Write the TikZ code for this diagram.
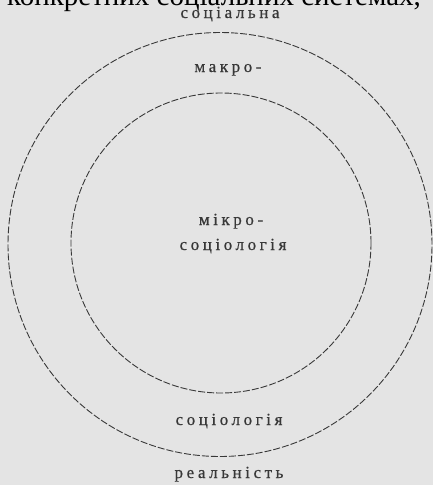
\documentclass[tikz,border=0pt]{standalone}
\usepackage{fontspec}
\setmainfont{Liberation Serif}
\newfontfamily\lblfont[LetterSpace=21,FakeBold=0.6]{Liberation Serif}
\definecolor{bg}{HTML}{E4E4E4}
\definecolor{ink}{HTML}{383838}
\tikzset{
  ring/.style={circle, draw=ink, line width=0.9pt, dash pattern=on 7pt off 2pt, inner sep=0pt},
  lbl/.style={font=\lblfont\fontsize{17}{18}\selectfont, text=ink, inner sep=0pt, anchor=base},
  head/.style={font=\fontsize{29}{31}\selectfont, text=black, inner sep=0pt, anchor=base}
}
\begin{document}
\begin{tikzpicture}[x=1pt,y=-1pt]
\useasboundingbox (0,0) rectangle (433,485);
\clip (0,0) rectangle (433,485);
\fill[bg] (0,0) rectangle (433,485);
\node[head] (top) at (214,5) {конкретних соціальних системах,};
\node[ring, minimum size=424pt] (outer) at (220,244.5) {};
\node[ring, minimum size=300pt] (inner) at (221,243) {};
\node[lbl] (soc) at (230,18) {соціальна};
\node[lbl] (makro) at (228,72) {макро-};
\node[lbl] (mikro) at (231,225) {мікро-};
\node[lbl] (sociol1) at (233,250) {соціологія};
\node[lbl] (sociol2) at (229,425) {соціологія};
\node[lbl] (real) at (229,478) {реальність};
\end{tikzpicture}
\end{document}
